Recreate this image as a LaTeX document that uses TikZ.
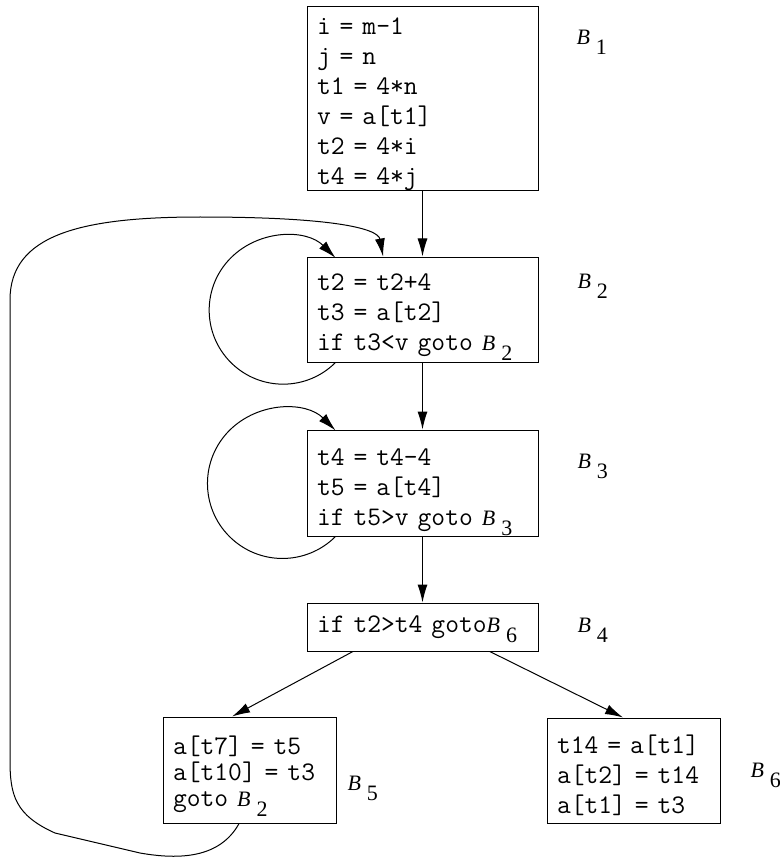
\documentclass[tikz,border=0pt]{standalone}
\usepackage{fontspec}
\setmainfont{Liberation Serif}
\usetikzlibrary{arrows.meta, calc}

% block name with lowered index
\newcommand{\bname}[1]{{\rmfamily\fontsize{11}{12}\selectfont\textit{B}\hspace{3pt}\raisebox{-5pt}[0pt][0pt]{#1}}}
% extra room above the first code line
\newcommand{\topgap}[1]{\rule{0pt}{#1}}

\begin{document}
\begin{tikzpicture}[x=0.5pt, y=0.5pt, line width=0.5pt,
    block/.style={draw, align=left, inner xsep=5pt, inner ysep=0pt,
                  font=\fontsize{13.4}{15}\selectfont\ttfamily},
    blocklabel/.style={anchor=base west, inner sep=0pt},
    >={Latex[length=9pt,width=5pt]}]
    \useasboundingbox (0,0) rectangle (780,-861);

    % Basic blocks
    \node[block, text width=105.5pt, minimum height=91.5pt] (b1) at (422.5,-98.5)
        {\topgap{14pt}i = m-1\\ j = n\\ t1 = 4*n\\ v = a[t1]\\ t2 = 4*i\\ t4 = 4*j};
    \node[block, text width=105.5pt, minimum height=52.5pt] (b2) at (422.5,-309.5)
        {\topgap{14pt}t2 = t2+4\\ t3 = a[t2]\\ if t3<v goto \bname{2}};
    \node[block, text width=105.5pt, minimum height=53pt] (b3) at (422.5,-483)
        {\topgap{16pt}t4 = t4-4\\ t5 = a[t4]\\ if t5>v goto \bname{3}};
    \node[block, text width=105.5pt, minimum height=24pt] (b4) at (422.5,-627)
        {if t2>t4 goto\bname{6}};
    \node[block, text width=76.5pt, minimum height=53pt,
          font=\fontsize{13.4}{13}\selectfont\ttfamily] (b5) at (249.5,-770)
        {\topgap{14pt}a[t7] = t5\\ a[t10] = t3\\ goto \bname{2}};
    \node[block, text width=76.5pt, minimum height=52.5pt] (b6) at (633.5,-770.5)
        {\topgap{14pt}t14 = a[t1]\\ a[t2] = t14\\ a[t1] = t3};

    % Block names
    \node[blocklabel] (l1) at (576,-45) {\bname{1}};
    \node[blocklabel] (l2) at (577,-288) {\bname{2}};
    \node[blocklabel] (l3) at (577,-468) {\bname{3}};
    \node[blocklabel] (l4) at (577,-632) {\bname{4}};
    \node[blocklabel] (l5) at (347,-790) {\bname{5}};
    \node[blocklabel] (l6) at (750,-777) {\bname{6}};

    % Flow edges
    \draw[->] (b1) -- (b2);
    \draw[->] (b2) -- (b3);
    \draw[->] (b3) -- (b4);
    \draw[->] ($(b4.south west)!0.2!(b4.south east)$) -- ($(b5.north west)!0.4!(b5.north east)$);
    \draw[->] ($(b4.south west)!0.79!(b4.south east)$) -- ($(b6.north west)!0.44!(b6.north east)$);

    % Self loops
    \draw[->] ($(b2.south west)!0.125!(b2.south east)$) arc[start angle=-45, end angle=-315, radius=37pt];
    \draw[->] ($(b3.south west)!0.125!(b3.south east)$) arc[start angle=-45, end angle=-315, radius=37.5pt];

    % Back edge B5 -> B2
    \draw[->] ($(b5.south west)!0.44!(b5.south east)$) .. controls (220,-858) and (180,-860) .. (140,-853)
        -- (55,-833) .. controls (15,-815) and (10,-795) .. (10,-760)
        -- (10,-300) .. controls (10,-235) and (80,-217) .. (200,-217)
        .. controls (330,-217) and (378,-228) .. ($(b2.north west)!0.33!(b2.north east)$);
\end{tikzpicture}
\end{document}
